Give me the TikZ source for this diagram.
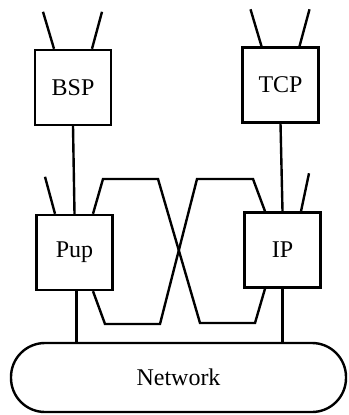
\documentclass[tikz,border=0pt]{standalone}
\usepackage{fontspec}
\setmainfont{Liberation Serif}
\usepackage{tikz}

\begin{document}
\begin{tikzpicture}
            [
                x=0.5pt, y=-0.5pt,
                line width=1.2pt,
                every node/.style={font=\fontsize{12}{14}\selectfont},
                proto/.style={draw, minimum width=38pt, minimum height=37.5pt, inner sep=0pt},
                netbox/.style={draw, rounded corners=17pt, minimum width=167.5pt, minimum height=34.5pt}
            ]
            \useasboundingbox (0,0) rectangle (348,415);
            % protocol boxes
            \node[proto] (bsp) at (73,87.5) {BSP};
            \node[proto] (tcp) at (280.5,85) {TCP};
            \node[proto] (pup) at (74.5,252.5) {Pup};
            \node[proto] (ip) at (282.5,250) {IP};
            \node[netbox] (net) at (178.5,377.5) {Network};
            % upward lines
            \foreach \n in {bsp,tcp} {
                \draw ([xshift=-9.5pt]\n.north) -- ++(-5.5pt,18.5pt);
                \draw ([xshift=9.5pt]\n.north) -- ++(5pt,18.5pt);
            }
            \draw ([xshift=-9.75pt]pup.north) -- ++(-5pt,18.5pt);
            \draw ([xshift=9.25pt]ip.north) -- ++(4pt,19pt);
            % stacking
            \draw (bsp.south) -- (pup.north);
            \draw (tcp.south) -- (ip.north);
            \draw ([xshift=1pt]pup.south) -- ([xshift=1pt]pup.south |- net.north);
            \draw (ip.south) -- (ip.south |- net.north);
            % crossing links
            \draw ([xshift=9.25pt]pup.north) -- (103,179) -- (158,179)
                -- (200,323) -- (255,323) -- ([xshift=-8.75pt]ip.south);
            \draw ([xshift=9.25pt]pup.south) -- (105,324) -- (160,324)
                -- (197,179) -- (253,179) -- ([xshift=-8.75pt]ip.north);
        \end{tikzpicture}
\end{document}
